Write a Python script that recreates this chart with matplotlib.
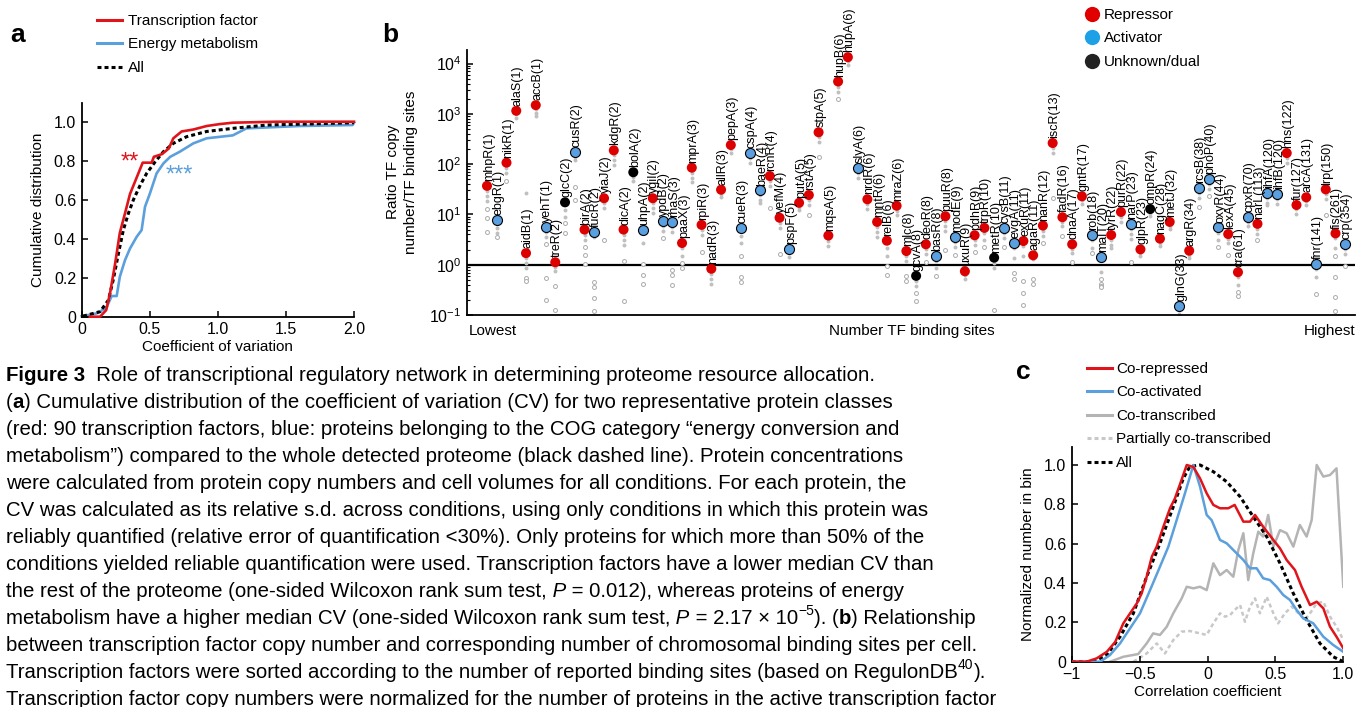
import numpy as np
import matplotlib
matplotlib.use("Agg")
import matplotlib.pyplot as plt
from matplotlib.lines import Line2D

W, H = 1357, 707

# --- panel a: cumulative distribution of CV ---
tf_cv_x = [0.06, 0.135, 0.18, 0.208, 0.245, 0.28, 0.318, 0.355, 0.39, 0.416, 0.448, 0.514,
           0.53, 0.59, 0.64, 0.673, 0.734, 0.82, 0.918, 1.016, 1.11, 1.43, 2.0]
tf_cv_y = [0, 0, 0.034, 0.12, 0.27, 0.43, 0.53, 0.63, 0.69, 0.735, 0.79, 0.79,
           0.82, 0.834, 0.863, 0.915, 0.95, 0.96, 0.978, 0.988, 0.995, 1.0, 1.0]
en_cv_x = [0, 0.06, 0.11, 0.135, 0.184, 0.22, 0.257, 0.28, 0.318, 0.355, 0.404, 0.44, 0.465,
           0.5, 0.55, 0.6, 0.65, 0.72, 0.82, 0.918, 1.11, 1.21, 1.6, 1.99, 2.0]
en_cv_y = [0.003, 0.01, 0.017, 0.026, 0.05, 0.106, 0.106, 0.205, 0.29, 0.35, 0.41, 0.444, 0.564,
           0.63, 0.735, 0.786, 0.82, 0.846, 0.889, 0.915, 0.93, 0.966, 0.978, 0.983, 0.995]
all_cv_x = [0.01, 0.135, 0.196, 0.232, 0.27, 0.306, 0.343, 0.38, 0.43, 0.477, 0.54, 0.6,
            0.673, 0.77, 0.918, 1.11, 1.36, 2.0]
all_cv_y = [0.003, 0.026, 0.085, 0.19, 0.325, 0.445, 0.53, 0.6, 0.675, 0.735, 0.795, 0.846,
            0.889, 0.923, 0.95, 0.966, 0.983, 0.995]

# --- panel b: TF copy number / binding sites ---
tf_names = ["mhpR", "ebgR", "nikR", "alaS", "aidB", "accB", "yehT", "treR", "glcC", "cusR",
            "birA", "fucR", "yiaJ", "kdgR", "dicA", "bolA", "uhpA", "ygiI", "ypdB", "rhaS",
            "paaX", "mprA", "rpiR", "nadR", "allR", "pepA", "cueR", "cspA", "baeR", "rcnR",
            "yefM", "pspF", "putA", "rstA", "stpA", "mqsA", "hupB", "hupA", "slyA", "nrdR",
            "mntR", "relB", "mraZ", "mlc", "gcvA", "deoR", "basR", "puuR", "modE", "uxuR",
            "pdhR", "trpR", "metR", "cysB", "evgA", "exuR", "agaR", "nanR", "iscR", "fadR",
            "dnaA", "gntR", "rob", "malT", "tyrR", "purR", "narP", "glpR", "ompR", "nagC",
            "metJ", "glnG", "argR", "rcsB", "phoP", "oxyR", "lexA", "cra", "cpxR", "narL",
            "ihfA", "ihfB", "hns", "fur", "arcA", "fnr", "lrp", "fis", "crp"]
tf_sites = [1, 1, 1, 1, 1, 1, 1, 2, 2, 2,
            2, 2, 2, 2, 2, 2, 2, 2, 2, 3,
            3, 3, 3, 3, 3, 3, 3, 4, 4, 4,
            4, 5, 5, 5, 5, 5, 6, 6, 6, 6,
            6, 6, 6, 8, 8, 8, 8, 8, 9, 9,
            9, 10, 10, 11, 11, 11, 11, 12, 13, 16,
            17, 17, 18, 20, 22, 22, 23, 23, 24, 28,
            32, 33, 34, 38, 40, 44, 45, 61, 70, 113,
            120, 120, 122, 127, 131, 141, 150, 261, 354]
tf_ratio = [37, 7.7, 107, 1150, 1.7, 1490, 5.7, 1.12, 17.4, 174,
            5.0, 4.5, 21, 188, 5.0, 69, 4.9, 21, 7.3, 7.1,
            2.7, 85, 6.2, 0.83, 31, 240, 5.3, 169, 30, 58,
            8.6, 2.05, 17, 24.3, 430, 3.8, 4400, 13400, 85, 20,
            7.1, 3.0, 14.9, 1.87, 0.60, 2.55, 1.5, 9.2, 3.55, 0.74,
            3.85, 5.4, 1.38, 5.3, 2.7, 2.96, 1.54, 6.0, 263, 8.8,
            2.55, 22.9, 3.9, 1.44, 3.9, 11.2, 6.6, 2.02, 12.8, 3.3,
            7.1, 0.15, 1.9, 34, 50, 5.5, 4.07, 0.71, 8.9, 6.5,
            27, 26, 166, 15.4, 21.9, 1.03, 31.5, 4.2, 2.55]
# R = repressor, A = activator, U = unknown/dual
tf_role = list("RARRRRARUARARRRUARAA"
               "RRRRRRAAAR"
               "RARRRRRRAR"
               "RRRRURARARRRUAARRRRR"
               "RRAARRARURRARAAARRAR"
               "AARRRARRA")
# per-condition values, as log10 offsets from the marker
tf_spread = [
    [-0.1, -0.2, -0.3, -0.47, -0.63, -0.92], [-0.07, -0.15, -0.25, -0.33], [-0.1, -0.2, -0.36],
    [-0.07, -0.15], [1.19, -0.1, -0.2, -0.3, -0.5, -0.55], [-0.08, -0.15, -0.22],
    [-0.1, -0.2, -0.35, -1.03, -1.46], [-0.1, -0.18, -0.47, -0.95], [-0.15, -0.3, -0.42, -0.6],
    [-0.1, -0.15, -0.69, -0.95], [-0.1, -0.2, -0.35, -0.5, -0.68], [-0.1, -1.0, -1.1, -1.32, -1.58],
    [-0.1, -0.2, -0.83], [-0.1, -0.2, -0.3], [-0.1, -0.2, -0.3, -0.62, -1.42], [-0.1, -0.18],
    [-0.26, -0.68, -0.9, -1.07], [-0.1, -0.2, -0.3], [-0.1, -0.2, -0.33],
    [-0.1, -0.2, -0.95, -1.05, -1.25], [-0.1, -0.25, -0.4, -0.5], [-0.1, -0.2, -0.28],
    [-0.1, -0.2, -0.54], [-0.1, -0.2, -0.3], [-0.08, -0.14], [-0.07, -0.15],
    [-0.15, -0.3, -0.55, -0.96, -1.06], [-0.1, -0.2], [-0.1, -0.2, -0.25], [-0.1, -0.2, -0.64],
    [-0.1, -0.2, -0.72], [-0.08, -0.15], [-0.08, -0.15], [-0.1, -0.2, -0.4], [-0.1, -0.2, -0.5],
    [-0.1, -0.2], [-0.1, -0.2, -0.34], [-0.08, -0.15], [-0.1, -0.2], [-0.1, -0.2],
    [-0.1, -0.2, -0.3], [-0.15, -0.3, -0.5, -0.68], [-0.1, -0.18], [-0.1, -0.2, -0.5, -0.6],
    [-0.1, -0.2, -0.35, -0.5], [-0.1, -0.2, -0.35], [-0.1, -0.25, -0.4], [-0.1, -0.2, -0.3, -0.67],
    [-0.1, -0.2, -0.36], [-0.08, -0.15], [-0.1, -0.2, -0.33], [-0.1, -0.25, -0.38],
    [-0.1, -0.2, -1.05], [-0.1, -0.2, -0.37], [-0.1, -0.3, -0.6, -0.72],
    [-0.1, -0.3, -0.8, -1.04, -1.27], [-0.08, -0.47, -0.57], [-0.1, -0.2, -0.35], [-0.1, -0.2, -1.1],
    [-0.1, -0.18, -0.38], [-0.1, -0.17, -0.36], [-0.08, -0.15], [-0.1, -0.25, -0.36],
    [-0.3, -0.45, -0.55, -0.58, -0.6], [-0.1, -0.2, -0.26], [-0.1, -0.2], [-0.1, -0.2, -0.3, -0.76],
    [-0.08, -0.14], [-0.08, -0.14], [-0.08, -0.15], [-0.08, -0.15], [-0.08, -0.15], [-0.08, -0.15],
    [-0.1, -0.2, -0.38], [-0.1, -0.2, -0.34], [-0.1, -0.25, -0.38], [-0.1, -0.18, -0.42],
    [-0.1, -0.25, -0.4, -0.48], [-0.1, -0.18], [-0.1, -0.2, -0.32], [-0.1, -0.2, -0.25],
    [-0.1, -0.2], [-0.1, -0.2], [-0.08, -0.18], [-0.08, -0.15], [-0.1, -0.25, -0.6],
    [-0.1, -0.2, -0.51], [-0.1, -0.3, -0.45, -0.86, -1.26, -1.54], [-0.1, -0.2, -0.44],
]

# --- panel c: correlation histograms ---
rep_x = [-1, -0.89, -0.816, -0.742, -0.68, -0.62, -0.57, -0.52, -0.485, -0.448, -0.41, -0.374,
         -0.325, -0.276, -0.24, -0.2, -0.153, -0.104, -0.055, -0.006, 0.043, 0.092, 0.153, 0.2,
         0.264, 0.313, 0.35, 0.41, 0.485, 0.534, 0.583, 0.644, 0.693, 0.755, 0.804, 0.853, 0.902,
         0.95, 1.0]
rep_y = [0, 0, 0.017, 0.05, 0.1, 0.195, 0.246, 0.297, 0.347, 0.432, 0.534, 0.585,
         0.686, 0.78, 0.83, 0.907, 1.0, 0.99, 0.932, 0.856, 0.797, 0.78, 0.78, 0.797,
         0.712, 0.712, 0.746, 0.686, 0.619, 0.576, 0.517, 0.466, 0.381, 0.288, 0.305, 0.271, 0.178,
         0.127, 0.068]
act_x = [-1, -0.79, -0.718, -0.644, -0.57, -0.497, -0.423, -0.35, -0.288, -0.227, -0.166, -0.104,
         -0.055, -0.006, 0.03, 0.092, 0.141, 0.19, 0.264, 0.313, 0.362, 0.41, 0.46, 0.509, 0.558,
         0.607, 0.656, 0.706, 0.779, 0.853, 0.926, 1.0]
act_y = [0, 0, 0.034, 0.093, 0.17, 0.246, 0.364, 0.483, 0.585, 0.72, 0.856, 1.0,
         0.89, 0.746, 0.72, 0.619, 0.602, 0.568, 0.517, 0.475, 0.475, 0.424, 0.415, 0.381, 0.339,
         0.314, 0.263, 0.22, 0.195, 0.127, 0.085, 0.05]
cot_x = [-0.718, -0.62, -0.51, -0.448, -0.4, -0.35, -0.3, -0.252, -0.19, -0.153, -0.104, -0.055,
         -0.006, 0.043, 0.092, 0.141, 0.19, 0.227, 0.264, 0.3, 0.337, 0.374, 0.41, 0.447, 0.485,
         0.534, 0.583, 0.632, 0.68, 0.73, 0.767, 0.804, 0.853, 0.902, 0.95, 1.0]
cot_y = [0, 0.025, 0.039, 0.093, 0.144, 0.136, 0.178, 0.246, 0.322, 0.381, 0.373, 0.381,
         0.364, 0.5, 0.44, 0.466, 0.432, 0.568, 0.653, 0.415, 0.551, 0.661, 0.636, 0.746, 0.585,
         0.669, 0.653, 0.585, 0.695, 0.636, 0.72, 1.0, 0.941, 0.949, 0.983, 0.381]
part_x = [-0.546, -0.448, -0.374, -0.313, -0.252, -0.19, -0.13, -0.055, -0.006, 0.043, 0.092,
          0.129, 0.166, 0.2, 0.24, 0.276, 0.313, 0.35, 0.386, 0.436, 0.485, 0.52, 0.57, 0.62,
          0.67, 0.718, 0.755, 0.804, 0.853, 0.902, 0.95, 1.0]
part_y = [0, 0.042, 0.093, 0.042, 0.11, 0.153, 0.156, 0.144, 0.136, 0.195, 0.246,
          0.229, 0.237, 0.263, 0.288, 0.203, 0.28, 0.322, 0.246, 0.33, 0.246, 0.195, 0.246, 0.28,
          0.246, 0.212, 0.246, 0.297, 0.305, 0.229, 0.178, 0.11]
allc_x = [-1, -0.84, -0.742, -0.644, -0.546, -0.448, -0.35, -0.252, -0.178, -0.13, -0.055, 0.043,
          0.141, 0.24, 0.337, 0.436, 0.534, 0.632, 0.73, 0.828, 0.926, 1.0]
allc_y = [0, 0, 0.034, 0.127, 0.246, 0.432, 0.602, 0.788, 0.932, 0.992, 1.0, 0.966,
          0.915, 0.839, 0.737, 0.636, 0.5, 0.347, 0.212, 0.093, 0.025, 0]

caption = [
    [("Figure 3", "b"), ("  Role of transcriptional regulatory network in determining proteome resource allocation.", "n")],
    [("(", "n"), ("a", "b"), (") Cumulative distribution of the coefficient of variation (CV) for two representative protein classes", "n")],
    [("(red: 90 transcription factors, blue: proteins belonging to the COG category \u201cenergy conversion and", "n")],
    [("metabolism\u201d) compared to the whole detected proteome (black dashed line). Protein concentrations", "n")],
    [("were calculated from protein copy numbers and cell volumes for all conditions. For each protein, the", "n")],
    [("CV was calculated as its relative s.d. across conditions, using only conditions in which this protein was", "n")],
    [("reliably quantified (relative error of quantification <30%). Only proteins for which more than 50% of the", "n")],
    [("conditions yielded reliable quantification were used. Transcription factors have a lower median CV than", "n")],
    [("the rest of the proteome (one-sided Wilcoxon rank sum test,", "n"), (" P", "i"), (" = 0.012), whereas proteins of energy", "n")],
    [("metabolism have a higher median CV (one-sided Wilcoxon rank sum test,", "n"), (" P", "i"),
     (" = 2.17 \u00d7 10", "n"), ("\u22125", "s"), ("). (", "n"), ("b", "b"), (") Relationship", "n")],
    [("between transcription factor copy number and corresponding number of chromosomal binding sites per cell.", "n")],
    [("Transcription factors were sorted according to the number of reported binding sites (based on RegulonDB", "n"), ("40", "s"), (").", "n")],
    [("Transcription factor copy numbers were normalized for the number of proteins in the active transcription factor", "n")],
]

RED = "#e0141b"
BLUE = "#5b9fdc"
GRAY = "#b4b4b4"
role_color = {"R": "#dd0000", "A": "#5a9fe0", "U": "#000000"}

plt.rcParams["font.family"] = ["Liberation Sans", "DejaVu Sans"]
plt.rcParams["axes.linewidth"] = 1.3
CAP_FONT = ["Liberation Sans", "DejaVu Sans"]


def fx(px):
    return px / W


def fy(py):
    return 1 - py / H


fig = plt.figure(figsize=(W / 100, H / 100), dpi=100)


def style_axes(ax):
    for s in ("top", "right"):
        ax.spines[s].set_visible(False)
    ax.tick_params(direction="in", length=4, width=1.1, labelsize=11.5, pad=4)


# ---------------- panel a ----------------
ax_a = fig.add_axes([fx(81.7), fy(316.7), (354 - 81.7) / W, (316.7 - 103) / H])
ax_a.plot(all_cv_x, all_cv_y, color="k", lw=2.2, ls=(0, (1.3, 1.0)), clip_on=False, zorder=3)
ax_a.plot(en_cv_x, en_cv_y, color=BLUE, lw=1.9, clip_on=False, zorder=2)
ax_a.plot(tf_cv_x, tf_cv_y, color=RED, lw=1.9, clip_on=False, zorder=4)
ax_a.set_xlim(0, 2.0)
ax_a.set_ylim(0, 1.096)
ax_a.set_xticks([0, 0.5, 1.0, 1.5, 2.0], ["0", "0.5", "1.0", "1.5", "2.0"])
ax_a.set_yticks([0, 0.2, 0.4, 0.6, 0.8, 1.0], ["0", "0.2", "0.4", "0.6", "0.8", "1.0"])
ax_a.set_xlabel("Coefficient of variation", fontsize=11, labelpad=2)
ax_a.set_ylabel("Cumulative distribution", fontsize=11, labelpad=6)
style_axes(ax_a)
ax_a.text(0.355, 0.79, "**", color=RED, fontsize=17, ha="center", va="center")
ax_a.text(0.72, 0.725, "***", color=BLUE, fontsize=17, ha="center", va="center")

leg_a = [Line2D([], [], color=RED, lw=2.2), Line2D([], [], color=BLUE, lw=2.2),
         Line2D([], [], color="k", lw=2.2, ls=(0, (1.3, 1.0)))]
fig.legend(leg_a, ["Transcription factor", "Energy metabolism", "All"], loc="upper left",
           bbox_to_anchor=(fx(97), fy(14)), frameon=False, fontsize=11, borderpad=0,
           borderaxespad=0, handlelength=1.65, handletextpad=0.4, labelspacing=0.62)

# ---------------- panel b ----------------
ax_b = fig.add_axes([fx(467), fy(315), (1355 - 467) / W, (315 - 50) / H])
ax_b.set_yscale("log")
ax_b.axhline(1, color="k", lw=1.6, zorder=1)
idx = np.arange(len(tf_names))
for i, (r, spr) in enumerate(zip(tf_ratio, tf_spread)):
    vals = r * 10 ** np.array(spr)
    near = np.array(spr) >= -0.3
    ax_b.scatter(np.full(near.sum(), i), vals[near], s=8, color="#c0c0c0", lw=0, zorder=2)
    ax_b.scatter(np.full((~near).sum(), i), vals[~near], s=8, facecolor="white",
                 edgecolor="#aaaaaa", lw=0.7, zorder=2)
for role in ("R", "A", "U"):
    sel = [k for k in idx if tf_role[k] == role]
    ax_b.scatter(sel, [tf_ratio[k] for k in sel], s=52, color=role_color[role],
                 edgecolor="k" if role == "A" else "none", lw=0.8, zorder=4)
for i, (n, s, r) in enumerate(zip(tf_names, tf_sites, tf_ratio)):
    ax_b.annotate(f"{n}({s})", (i, r), xytext=(1.2, 3.5), textcoords="offset points",
                  rotation=90, ha="center", va="bottom", fontsize=9, zorder=5)
ax_b.set_xlim(-2.05, 89.0)
ax_b.set_ylim(0.1, 10 ** 4.27)
ax_b.set_xticks([])
style_axes(ax_b)
ax_b.tick_params(which="minor", direction="in", length=2.5, width=0.8)
fig.text(fx(402), fy(172), "Ratio TF copy\nnumber/TF binding sites", rotation=90,
         ha="center", va="center", fontsize=11, linespacing=1.45)
fig.text(fx(469), fy(331), "Lowest", fontsize=11, ha="left", va="center")
fig.text(fx(912), fy(331), "Number TF binding sites", fontsize=11, ha="center", va="center")
fig.text(fx(1355), fy(331), "Highest", fontsize=11, ha="right", va="center")

leg_b = [Line2D([], [], marker="o", ls="", markersize=11, mfc=c, mec="none")
         for c in ("#e00000", "#1ea0e6", "#222222")]
fig.legend(leg_b, ["Repressor", "Activator", "Unknown/dual"], loc="upper left",
           bbox_to_anchor=(fx(1084), fy(8)), frameon=False, fontsize=11, borderpad=0,
           borderaxespad=0, handlelength=1.0, handletextpad=0.3, labelspacing=0.62)

# ---------------- panel c ----------------
ax_c = fig.add_axes([fx(1071.7), fy(661.7), 271.6 / W, (661.7 - 446.7) / H])
ax_c.plot(part_x, part_y, color="#c8c8c8", lw=1.8, ls=(0, (1.6, 1.2)), zorder=1)
ax_c.plot(cot_x, cot_y, color=GRAY, lw=1.8, zorder=1)
ax_c.plot(allc_x, allc_y, color="k", lw=2.2, ls=(0, (1.3, 1.0)), zorder=2)
ax_c.plot(act_x, act_y, color=BLUE, lw=1.8, zorder=3)
ax_c.plot(rep_x, rep_y, color=RED, lw=1.8, zorder=4)
ax_c.set_xlim(-1, 1)
ax_c.set_ylim(0, 1.093)
ax_c.set_xticks([-1, -0.5, 0, 0.5, 1.0], ["\u22121", "\u22120.5", "0", "0.5", "1.0"])
ax_c.set_yticks([0, 0.2, 0.4, 0.6, 0.8, 1.0], ["0", "0.2", "0.4", "0.6", "0.8", "1.0"])
ax_c.set_xlabel("Correlation coefficient", fontsize=11, labelpad=2)
ax_c.set_ylabel("Normalized number in bin", fontsize=11, labelpad=6)
style_axes(ax_c)

leg_c = [Line2D([], [], color=RED, lw=2.2), Line2D([], [], color=BLUE, lw=2.2),
         Line2D([], [], color=GRAY, lw=2.2),
         Line2D([], [], color="#c8c8c8", lw=2.2, ls=(0, (1.3, 1.0))),
         Line2D([], [], color="k", lw=2.2, ls=(0, (1.3, 1.0)))]
fig.legend(leg_c, ["Co-repressed", "Co-activated", "Co-transcribed",
                   "Partially co-transcribed", "All"], loc="upper left",
           bbox_to_anchor=(fx(1087), fy(362)), frameon=False, fontsize=11, borderpad=0,
           borderaxespad=0, handlelength=1.65, handletextpad=0.25, labelspacing=0.62)

# ---------------- panel letters ----------------
fig.text(fx(10), fy(35), "a", fontsize=19, fontweight="bold", va="center", ha="left")
fig.text(fx(382), fy(35), "b", fontsize=19, fontweight="bold", va="center", ha="left")
fig.text(fx(1016), fy(372), "c", fontsize=19, fontweight="bold", va="center", ha="left")

# ---------------- caption ----------------
renderer = fig.canvas.get_renderer()


def draw_line(x0, y_base, segs, fs):
    x = x0
    for txt, st in segs:
        kw = dict(fontsize=fs, family=CAP_FONT)
        y = y_base
        if st == "b":
            kw["fontweight"] = "bold"
        elif st == "i":
            kw["fontstyle"] = "italic"
        elif st == "s":
            kw["fontsize"] = fs * 0.68
            y = y_base - fs * 0.45 / 0.72
        t = fig.text(fx(x), fy(y), txt, ha="left", va="baseline", **kw)
        x = t.get_window_extent(renderer).x1
    return x


# fit the font size so the second line ends where it does in the figure
probe = fig.text(0, 0, "".join(s for s, _ in caption[1]), fontsize=12, family=CAP_FONT)
w = probe.get_window_extent(renderer).width
probe.remove()
cap_fs = 12 * (897 - 6) / w

for k, segs in enumerate(caption):
    draw_line(6, 381 + 27 * k, segs, cap_fs)

fig.savefig("out.png", dpi=100)
